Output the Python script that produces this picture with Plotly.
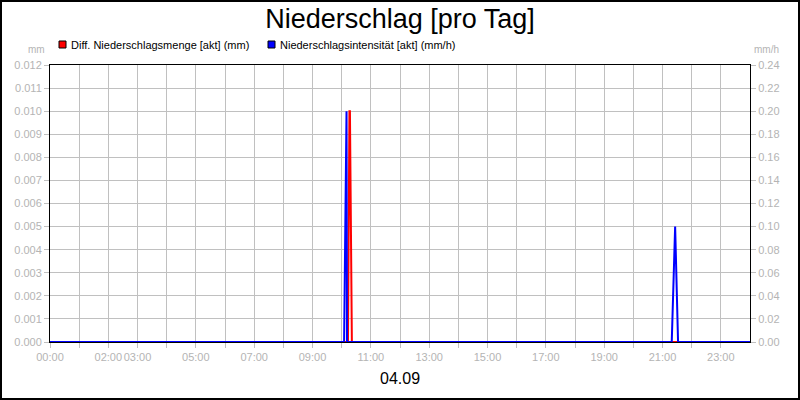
import plotly.graph_objects as go

# Data (04.09)
day = "2024-09-04"
next_day = "2024-09-05"

menge_times = ["00:00", "10:13", "10:16", "10:17", "10:21"]
menge_values = [0, 0, 0.01, 0.01, 0]   # mm

intens_times = ["00:00", "10:05", "10:10", "10:11", "21:19", "21:26", "21:32"]
intens_values = [0, 0, 0.2, 0, 0, 0.1, 0]   # mm/h

hour_labels = ["00:00", "", "02:00", "03:00", "", "05:00", "", "07:00", "", "09:00", "",
               "11:00", "", "13:00", "", "15:00", "", "17:00", "", "19:00", "",
               "21:00", "", "23:00"]

left_ticks = [0.000, 0.001, 0.002, 0.003, 0.004, 0.005, 0.006, 0.007, 0.008,
              0.009, 0.010, 0.011, 0.012]
right_ticks = [0.00, 0.02, 0.04, 0.06, 0.08, 0.10, 0.12, 0.14, 0.16, 0.18,
               0.20, 0.22, 0.24]

series_names = ["Diff. Niederschlagsmenge [akt] (mm)",
                "Niederschlagsintensität [akt] (mm/h)"]

red = "#ff0000"
blue = "#0000ff"
grey = "#b4b4b4"

W, H = 800, 400
ML, MR, MT, MB = 50, 50, 65, 58
pw = W - ML - MR
ph = H - MT - MB


def px(x):
    # figure pixel -> paper x
    return (x - ML) / pw


def py(y):
    # figure pixel (from top) -> paper y
    return (H - MB - y) / ph


def stamp(t):
    return day + " " + t


menge_x = [stamp(t) for t in menge_times] + [next_day + " 00:00"]
menge_y = menge_values + [0]
intens_x = [stamp(t) for t in intens_times] + [next_day + " 00:00"]
intens_y = intens_values + [0]
hour_vals = [stamp("%02d:00" % h) for h in range(24)]

fig = go.Figure()

fig.add_trace(go.Scatter(x=intens_x, y=intens_y, mode="lines", yaxis="y2",
                         line=dict(color=blue, width=2), name=series_names[1]))
fig.add_trace(go.Scatter(x=menge_x, y=menge_y, mode="lines",
                         line=dict(color=red, width=2), name=series_names[0]))

axis_common = dict(ticks="outside", ticklen=5, tickcolor="#c0c0c0",
                   tickfont=dict(size=11, color=grey), zeroline=False)

# legend drawn as small squares + labels, like the original
legend_shapes = []
legend_notes = []
for (x0, color, name) in [(59, red, series_names[0]), (268, blue, series_names[1])]:
    legend_shapes.append(dict(type="rect", xref="paper", yref="paper",
                              x0=px(x0), x1=px(x0 + 7), y0=py(48), y1=py(41),
                              fillcolor=color, line=dict(color="black", width=1)))
    legend_notes.append(dict(text=name, xref="paper", yref="paper",
                             x=px(x0 + 10), y=py(44.5), xanchor="left",
                             yanchor="middle", showarrow=False,
                             font=dict(size=11, color="black")))

fig.update_layout(
    width=W, height=H, autosize=False,
    margin=dict(l=ML, r=MR, t=MT, b=MB),
    paper_bgcolor="white", plot_bgcolor="white",
    showlegend=False,
    font=dict(family="Liberation Sans, Arial, sans-serif", size=11, color=grey),
    title=dict(text="Niederschlag [pro Tag]", x=0.5, xanchor="center",
               y=1 - 19 / H, yanchor="middle",
               font=dict(size=27, color="black")),
    xaxis=dict(type="date", range=[stamp("00:00"), next_day + " 00:00"],
               tickvals=hour_vals, ticktext=hour_labels, tickangle=0,
               showgrid=True, gridcolor="#c0c0c0", gridwidth=1,
               showline=True, linecolor="black", linewidth=1, mirror=True,
               **axis_common),
    yaxis=dict(range=[0, 0.012], tickvals=left_ticks,
               ticktext=["%.3f" % v for v in left_ticks],
               showgrid=True, gridcolor="#c0c0c0", gridwidth=1,
               showline=True, linecolor="black", linewidth=1, mirror=True,
               **axis_common),
    yaxis2=dict(range=[0, 0.24], tickvals=right_ticks,
                ticktext=["%.2f" % v for v in right_ticks],
                overlaying="y", side="right", showgrid=False,
                **axis_common),
    annotations=legend_notes + [
        dict(text="mm", xref="paper", yref="paper", x=px(47), y=py(50),
             xanchor="right", yanchor="middle", showarrow=False,
             font=dict(size=10, color=grey)),
        dict(text="mm/h", xref="paper", yref="paper", x=px(752), y=py(50),
             xanchor="left", yanchor="middle", showarrow=False,
             font=dict(size=10, color=grey)),
        dict(text="04.09", xref="paper", yref="paper", x=0.5, y=py(378),
             xanchor="center", yanchor="middle", showarrow=False,
             font=dict(size=16, color="black")),
    ],
    shapes=legend_shapes + [
        dict(type="rect", xref="paper", yref="paper",
             x0=px(1), x1=px(W - 1), y0=py(H - 1), y1=py(1),
             line=dict(color="black", width=2), fillcolor="rgba(0,0,0,0)"),
    ],
)

fig.write_html("out.html", config={"displayModeBar": False},
               post_script="document.body.style.margin='0';")
